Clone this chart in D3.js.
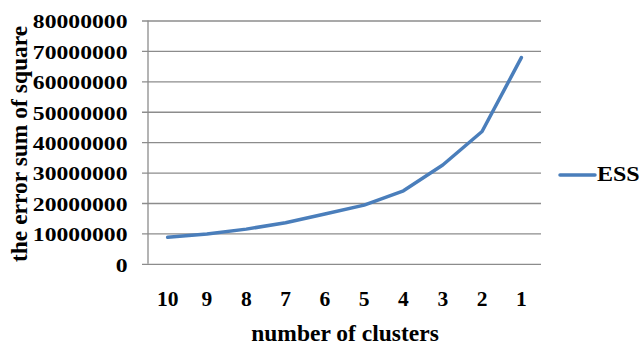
<!DOCTYPE html>
<html>
<head>
<meta charset="utf-8">
<script src="https://cdn.jsdelivr.net/npm/d3@7"></script>
<style>
  html, body { margin: 0; padding: 0; background: #fff; }
  svg { display: block; }
  text { font-family: "Liberation Serif", "Times New Roman", serif; font-weight: bold; fill: #000; }
</style>
</head>
<body>
<svg id="chart" width="641" height="347"></svg>
<script>
// Error sum of squares for each number of clusters
const clusters = ["10", "9", "8", "7", "6", "5", "4", "3", "2", "1"];
const ess = [8700000, 9800000, 11400000, 13500000, 16400000, 19300000, 24000000, 32500000, 43500000, 67800000];
const yTicks = [0, 10000000, 20000000, 30000000, 40000000, 50000000, 60000000, 70000000, 80000000];
const seriesName = "ESS";

const W = 641, H = 347;
const margin = { left: 148, right: 100, top: 20.5, bottom: 83.2 };
const serif = "'Liberation Serif', 'Times New Roman', serif";
const wide = 1.28;     // horizontal widening of tick lettering
const legendWide = 1.2;

const svg = d3.select("#chart");

const x = d3.scaleBand().domain(clusters).range([margin.left, W - margin.right]);
const y = d3.scaleLinear().domain([0, 80000000]).range([H - margin.bottom, margin.top]);

// horizontal gridlines with short outside ticks
const grid = svg.append("g")
  .attr("transform", `translate(${margin.left},0)`)
  .call(d3.axisLeft(y).tickValues(yTicks).tickSize(6).tickFormat(d3.format("d")));
grid.attr("font-family", serif).attr("font-size", null);
grid.select(".domain").remove();
grid.selectAll(".tick line")
  .attr("x1", -6)
  .attr("x2", W - margin.right - margin.left)
  .attr("stroke", "#8c8c8c")
  .attr("stroke-width", 1.3);
grid.selectAll(".tick text")
  .style("font-family", serif)
  .style("font-weight", "bold")
  .style("font-size", "18.5px")
  .attr("fill", "#000")
  .attr("text-anchor", "end")
  .attr("x", -20.5 / wide)
  .attr("dy", "0.4em")
  .attr("transform", `scale(${wide},1)`);

// vertical axis line
svg.append("line")
  .attr("x1", margin.left).attr("x2", margin.left)
  .attr("y1", y(80000000)).attr("y2", y(0))
  .attr("stroke", "#8c8c8c").attr("stroke-width", 1.3);

// category labels
const xa = svg.append("g")
  .attr("transform", `translate(0,${y(0)})`)
  .call(d3.axisBottom(x).tickSize(0).tickPadding(0));
xa.select(".domain").remove();
xa.selectAll(".tick text")
  .style("font-family", serif)
  .style("font-weight", "bold")
  .style("font-size", "21.5px")
  .attr("fill", "#000")
  .attr("dy", null)
  .attr("y", 42);

// ESS line
const line = d3.line()
  .x((d, i) => x(clusters[i]) + x.bandwidth() / 2)
  .y(d => y(d));
svg.append("path")
  .datum(ess)
  .attr("d", line)
  .attr("fill", "none")
  .attr("stroke", "#4a7ebb")
  .attr("stroke-width", 3.5)
  .attr("stroke-linejoin", "round")
  .attr("stroke-linecap", "round");

// axis titles
svg.append("text")
  .attr("x", 345)
  .attr("y", 341)
  .attr("text-anchor", "middle")
  .style("font-size", "23.5px")
  .text("number of clusters");

svg.append("text")
  .attr("transform", `translate(27,${(y(0) + 24) / 2}) rotate(-90)`)
  .attr("text-anchor", "middle")
  .style("font-size", "23.5px")
  .text("the error sum of square");

// legend
const lg = svg.append("g").attr("transform", "translate(560,175)");
lg.append("line")
  .attr("x1", 0).attr("x2", 35)
  .attr("stroke", "#4a7ebb").attr("stroke-width", 3.5).attr("stroke-linecap", "round");
lg.append("text")
  .attr("x", 37 / legendWide).attr("y", 6)
  .attr("transform", `scale(${legendWide},1)`)
  .style("font-size", "20px")
  .text(seriesName);
</script>
</body>
</html>
